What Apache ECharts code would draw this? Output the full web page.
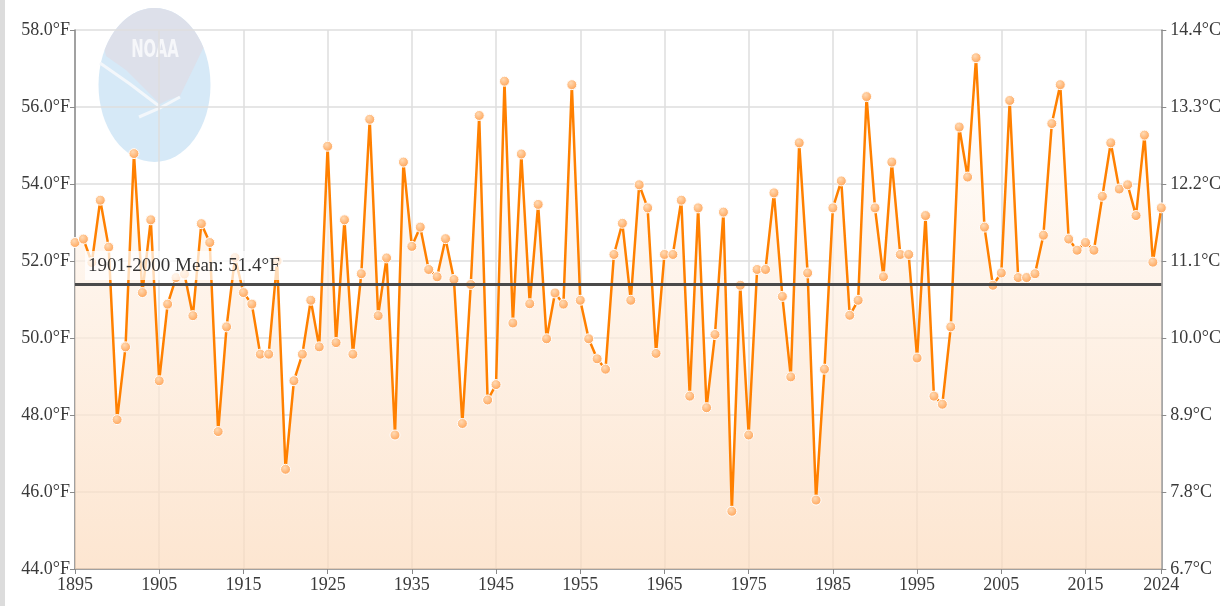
<!DOCTYPE html>
<html>
<head>
<meta charset="utf-8">
<script src="https://cdn.jsdelivr.net/npm/echarts@6/dist/echarts.min.js"></script>
<style>
html,body{margin:0;padding:0;background:#fff;}
#chart{width:1224px;height:606px;}
</style>
</head>
<body>
<div id="chart"></div>
<script>
// ---- Data ----
var firstYear = 1895;
var lastYear = 2024;
var years = [];
for (var y = firstYear; y <= lastYear; y++) years.push(String(y));

var tempF = [
  52.48, 52.57, 51.96, 53.58, 52.36, 47.88, 49.77, 54.79, 51.18, 53.07, // 1895-1904
  48.89, 50.88, 51.57, 51.66, 50.58, 52.97, 52.48, 47.57, 50.29, 52.09, // 1905-1914
  51.18, 50.88, 49.58, 49.58, 52.00, 46.59, 48.89, 49.58, 50.98, 49.77, // 1915-1924
  54.98, 49.88, 53.07, 49.58, 51.67, 55.68, 50.58, 52.08, 47.48, 54.57, // 1925-1934
  52.38, 52.88, 51.78, 51.59, 52.58, 51.52, 47.78, 51.39, 55.78, 48.39, // 1935-1944
  48.79, 56.67, 50.39, 54.78, 50.89, 53.47, 49.98, 51.17, 50.88, 56.58, // 1945-1954
  50.98, 49.98, 49.46, 49.19, 52.17, 52.98, 50.98, 53.98, 53.38, 49.60, // 1955-1964
  52.17, 52.17, 53.58, 48.49, 53.38, 48.19, 50.09, 53.27, 45.50, 51.37, // 1965-1974
  47.48, 51.78, 51.78, 53.77, 51.08, 48.99, 55.07, 51.69, 45.79, 49.19, // 1975-1984
  53.38, 54.08, 50.59, 50.98, 56.27, 53.38, 51.59, 54.57, 52.17, 52.17, // 1985-1994
  49.48, 53.18, 48.49, 48.28, 50.29, 55.48, 54.18, 57.28, 52.88, 51.37, // 1995-2004
  51.69, 56.17, 51.57, 51.57, 51.67, 52.67, 55.57, 56.58, 52.57, 52.28, // 2005-2014
  52.48, 52.28, 53.68, 55.07, 53.87, 53.98, 53.18, 55.27, 51.97, 53.38  // 2015-2024
];

var meanValue = 51.4;
var meanLabel = '1901-2000 Mean: 51.4°F';
var yMin = 44, yMax = 58, yStep = 2;

// ---- Chart ----
var FONT = "'Liberation Serif','Times New Roman',serif";
var chart = echarts.init(document.getElementById('chart'), null, {renderer: 'canvas'});

function showTick(idx) {
  return idx % 10 === 0 || idx === years.length - 1;
}

// NOAA logo (decorative watermark)
var lcx = 154.5, lcy = 85, lrx = 56, lry = 77;
function ep(deg) {
  var t = deg * Math.PI / 180;
  return [lcx + lrx * Math.cos(t), lcy + lry * Math.sin(t)];
}
var grayPts = [];
for (var a = 207; a <= 331; a += 4) grayPts.push(ep(a));
grayPts.push([180, 96], [168, 100], [160, 104], [146, 90], [126, 70], [106, 56]);

chart.setOption({
  animation: false,
  backgroundColor: '#ffffff',
  textStyle: {fontFamily: FONT},
  grid: {left: 75, right: 61, top: 30, bottom: 37, containLabel: false},
  graphic: [
    {type: 'rect', z: -1, shape: {x: 0, y: 0, width: 5, height: 606}, style: {fill: '#dcdcdc'}},
    {type: 'circle', z: -1, x: lcx, y: lcy, scaleX: lrx / lry, shape: {cx: 0, cy: 0, r: lry}, style: {fill: '#d6e9f7'}},
    {type: 'polygon', z: -1, shape: {points: grayPts}, style: {fill: '#dde0ea'}},
    {type: 'polyline', z: -1, shape: {points: [[100, 63], [130, 84], [159, 106]]}, style: {stroke: '#f3f7fb', lineWidth: 3, fill: null}},
    {type: 'polyline', z: -1, shape: {points: [[139, 117], [160, 108], [180, 97]]}, style: {stroke: '#f3f7fb', lineWidth: 3, fill: null}},
    {type: 'text', z: -1, x: 155, y: 51, scaleX: 0.62, style: {text: 'NOAA', fill: '#f6f7fa', font: "bold 24px 'DejaVu Sans', sans-serif", textAlign: 'center', textVerticalAlign: 'middle'}}
  ],
  xAxis: {
    type: 'category',
    data: years,
    boundaryGap: false,
    axisLine: {show: true, lineStyle: {color: '#8a8a8a', width: 1.5}},
    axisTick: {show: true, interval: function (i) { return showTick(i); }, length: 5, lineStyle: {color: '#8a8a8a'}},
    axisLabel: {interval: function (i) { return showTick(i); }, color: '#3a3a3a', fontSize: 18, fontFamily: FONT, margin: 7},
    splitLine: {show: true, interval: function (i) { return i % 10 === 0; }, lineStyle: {color: '#dedede', width: 1.5}}
  },
  yAxis: [
    {
      type: 'value', min: yMin, max: yMax, interval: yStep, position: 'left',
      axisLine: {show: true, lineStyle: {color: '#8a8a8a', width: 1.5}},
      axisTick: {show: true, length: 5, lineStyle: {color: '#8a8a8a'}},
      axisLabel: {color: '#3a3a3a', fontSize: 18, fontFamily: FONT, margin: 5,
        formatter: function (v) { return v.toFixed(1) + '°F'; }},
      splitLine: {show: true, lineStyle: {color: '#dedede', width: 1.5}}
    },
    {
      type: 'value', min: yMin, max: yMax, interval: yStep, position: 'right',
      axisLine: {show: true, lineStyle: {color: '#8a8a8a', width: 1.5}},
      axisTick: {show: true, length: 5, lineStyle: {color: '#8a8a8a'}},
      axisLabel: {color: '#3a3a3a', fontSize: 18, fontFamily: FONT, margin: 9,
        formatter: function (v) { return ((v - 32) * 5 / 9).toFixed(1) + '°C'; }},
      splitLine: {show: false}
    }
  ],
  series: [{
    type: 'line',
    data: tempF,
    yAxisIndex: 0,
    z: 3,
    symbol: 'circle',
    symbolSize: 10,
    showSymbol: true,
    showAllSymbol: true,
    lineStyle: {color: '#ff8000', width: 2.5},
    itemStyle: {
      color: new echarts.graphic.RadialGradient(0.4, 0.35, 0.7, [
        {offset: 0, color: '#ffd9b3'}, {offset: 1, color: '#ffa050'}
      ]),
      borderColor: '#ffffff', borderWidth: 1
    },
    areaStyle: {
      color: new echarts.graphic.LinearGradient(0, 0, 0, 1, [
        {offset: 0, color: 'rgba(255,255,255,1)'},
        {offset: 1, color: 'rgba(252,219,189,1)'}
      ])
    },
    markLine: {
      silent: true,
      symbol: 'none',
      z: 4,
      lineStyle: {color: '#4a4a4a', width: 3, type: 'solid'},
      label: {
        show: true,
        position: 'insideStartTop',
        formatter: meanLabel,
        color: '#333333',
        fontFamily: FONT,
        fontSize: 19,
        backgroundColor: 'rgba(255,255,255,0.72)',
        padding: [5, 3, 5, 3],
        distance: [10, 4]
      },
      data: [{yAxis: meanValue}]
    }
  }]
});
</script>
</body>
</html>
